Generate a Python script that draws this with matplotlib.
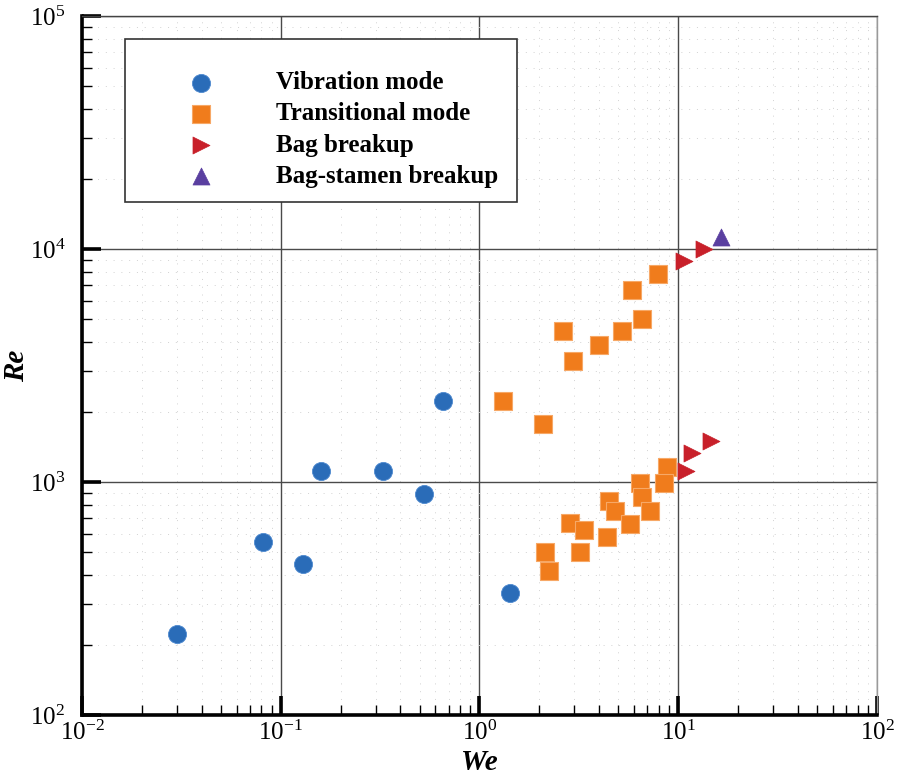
#!/usr/bin/python
""" Breakup regime map, Re against We on log axes """
import matplotlib
matplotlib.use('Agg')
import matplotlib.pyplot as plt
from matplotlib.patches import Rectangle

plt.rcParams['font.family'] = ['Liberation Serif', 'DejaVu Serif']
plt.rcParams['mathtext.fontset'] = 'custom'
plt.rcParams['mathtext.rm'] = 'Liberation Serif'
plt.rcParams['mathtext.it'] = 'Liberation Serif:italic'
plt.rcParams['mathtext.bf'] = 'Liberation Serif:bold'

# data
vib_we = [0.030, 0.081, 0.129, 0.159, 0.327, 0.526, 0.655, 1.42]
vib_re = [223, 552, 445, 1115, 1115, 888, 2226, 334]

trans_we = [7.94, 5.87, 6.59, 5.23, 2.62, 4.01, 2.95, 1.31, 2.09,
            8.75, 8.51, 6.44, 6.57, 4.47, 4.82, 7.21, 2.85, 3.35,
            5.72, 4.37, 2.14, 3.20, 2.24]
trans_re = [7790, 6670, 4990, 4450, 4450, 3870, 3320, 2230, 1775,
            1163, 993, 993, 865, 829, 748, 748, 665, 624,
            662, 582, 499, 499, 415]

bag_we = [10.7, 13.5, 11.0, 11.7, 14.7]
bag_re = [8880, 9970, 1118, 1328, 1500]

stamen_we = [16.4]
stamen_re = [11220]

labels = ['Vibration mode', 'Transitional mode', 'Bag breakup',
          'Bag-stamen breakup']


def draw_map(outFile):
    fig = plt.figure(figsize=(8.98, 7.75), dpi=100)
    ax = fig.add_axes([0.0913, 0.0774, 0.8853, 0.9020])
    ax.set_xscale('log')
    ax.set_yscale('log')
    ax.set_xlim(1e-2, 1e2)
    ax.set_ylim(1e2, 1e5)

    # grid: solid at decades, faint dots at minor ticks
    ax.grid(True, which='major', color='#4a4a4a', lw=1.0, zorder=1)
    ax.grid(True, which='minor', color='#d2d2d2', lw=0.7,
            linestyle=(0, (1, 7)), zorder=0)
    ax.set_axisbelow(True)

    ax.scatter(vib_we, vib_re, s=170, marker='o', color='#2a6cb8',
               edgecolors='#4f8ad0', linewidths=0.6, zorder=3, label=labels[0])
    ax.scatter(trans_we, trans_re, s=150, marker='s', color='#f07c1c',
               edgecolors='#f7a866', linewidths=0.8, zorder=3, label=labels[1])
    ax.scatter(bag_we, bag_re, s=150, marker='>', color='#c8202a',
               edgecolors='#c8202a', linewidths=0.5, zorder=3, label=labels[2])
    ax.scatter(stamen_we, stamen_re, s=150, marker='^', color='#5a3fa0',
               edgecolors='#5a3fa0', linewidths=0.5, zorder=3, label=labels[3])

    # legend box, drawn by hand to get its odd padding
    box = Rectangle((0.054, 0.734), 0.493, 0.233, transform=ax.transAxes,
                    facecolor='white', edgecolor='#333333', lw=1.2, zorder=4)
    ax.add_patch(box)
    leg = ax.legend(loc='upper left', bbox_to_anchor=(0.118, 0.921),
                    frameon=False, borderaxespad=0, borderpad=0,
                    handlelength=2.0, handletextpad=2.0, labelspacing=0.33,
                    prop={'family': 'Liberation Serif', 'weight': 'bold',
                          'size': 18})
    leg.set_zorder(5)

    for side in ['left', 'bottom']:
        ax.spines[side].set_linewidth(2.6)
        ax.spines[side].set_color('black')
    ax.spines['top'].set_linewidth(1.0)
    ax.spines['top'].set_color('#444444')
    ax.spines['right'].set_linewidth(1.0)
    ax.spines['right'].set_color('#9a9a9a')

    ax.tick_params(which='major', direction='in', length=14, width=2.6,
                   labelsize=18, pad=4, top=False, right=False)
    ax.tick_params(which='minor', direction='in', length=7, width=1.0,
                   top=False, right=False)
    ax.tick_params(axis='y', which='major', pad=12)

    ax.set_xlabel('We', fontsize=21, fontstyle='italic', fontweight='bold',
                  labelpad=3)
    ax.set_ylabel('Re', fontsize=21, fontstyle='italic', fontweight='bold',
                  labelpad=0)

    plt.savefig(outFile, dpi=100)
    return


if __name__ == '__main__':
    draw_map('out.png')
